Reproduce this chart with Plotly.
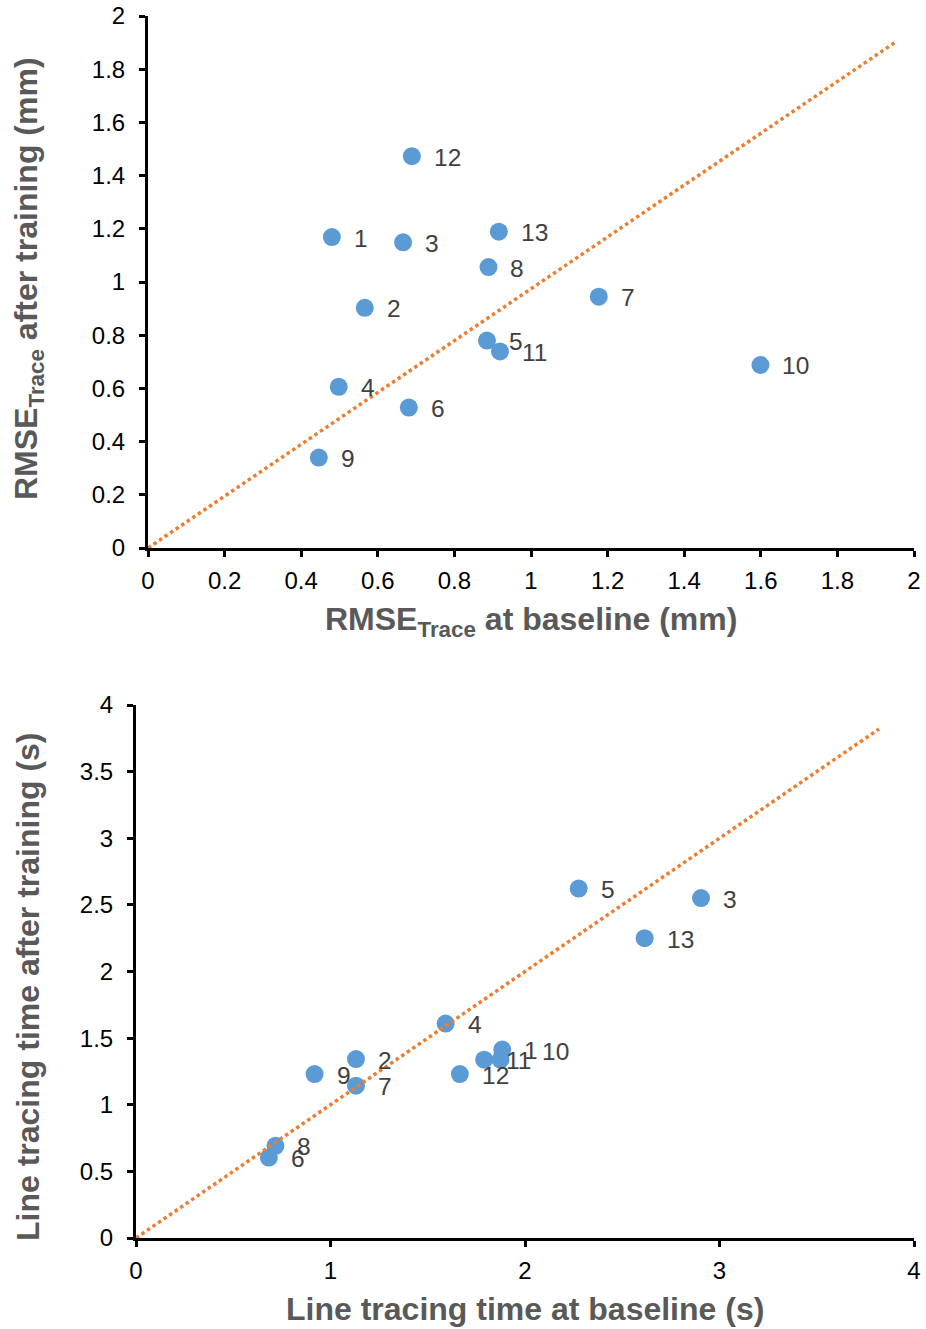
import plotly.graph_objects as go

W, H = 926, 1329

# Participant IDs
participants = [str(i) for i in range(1, 14)]

# RMSE_Trace (mm): baseline vs after training
rmse_baseline = [0.480, 0.566, 0.666, 0.498, 0.885, 0.681, 1.177, 0.889, 0.446, 1.599, 0.919, 0.689, 0.916]
rmse_after = [1.169, 0.903, 1.149, 0.606, 0.780, 0.528, 0.945, 1.056, 0.340, 0.688, 0.739, 1.473, 1.189]

# Line tracing time (s): baseline vs after training
time_baseline = [1.883, 1.131, 2.905, 1.592, 2.276, 0.683, 1.131, 0.717, 0.918, 1.874, 1.790, 1.665, 2.615]
time_after = [1.414, 1.343, 2.551, 1.609, 2.622, 0.604, 1.143, 0.692, 1.230, 1.338, 1.338, 1.230, 2.250]

# Reference lines through the origin
rmse_ref_x = [0, 1.956]
rmse_ref_y = [0, 1.906]
time_ref_x = [0, 3.82]
time_ref_y = [0, 3.82]

# Tick values
rmse_ticks = [0, 0.2, 0.4, 0.6, 0.8, 1, 1.2, 1.4, 1.6, 1.8, 2]
time_x_ticks = [0, 1, 2, 3, 4]
time_y_ticks = [0, 0.5, 1, 1.5, 2, 2.5, 3, 3.5, 4]

BLUE = "#5B9BD5"
ORANGE = "#ED7D31"
FONT = "Arial, Liberation Sans, sans-serif"


def px_x(p):
    return p / W


def px_y(p):
    return 1 - p / H


fig = go.Figure()

# Top panel
fig.add_trace(go.Scatter(x=rmse_baseline, y=rmse_after, mode="markers",
                         marker=dict(size=18, color=BLUE, line=dict(width=0)),
                         xaxis="x", yaxis="y", hoverinfo="x+y"))
fig.add_trace(go.Scatter(x=rmse_ref_x, y=rmse_ref_y, mode="lines",
                         line=dict(color=ORANGE, width=3.5, dash="3.5px,3.2px"),
                         xaxis="x", yaxis="y", hoverinfo="skip"))

# Bottom panel
fig.add_trace(go.Scatter(x=time_baseline, y=time_after, mode="markers",
                         marker=dict(size=18, color=BLUE, line=dict(width=0)),
                         xaxis="x2", yaxis="y2", hoverinfo="x+y"))
fig.add_trace(go.Scatter(x=time_ref_x, y=time_ref_y, mode="lines",
                         line=dict(color=ORANGE, width=3.5, dash="3.5px,3.2px"),
                         xaxis="x2", yaxis="y2", hoverinfo="skip"))

annotations = []

# Point labels, set to the right of each marker
label_font = dict(family=FONT, size=24.5, color="#404040")
for pid, xv, yv in zip(participants, rmse_baseline, rmse_after):
    annotations.append(dict(x=xv, y=yv, xref="x", yref="y", text=pid, showarrow=False,
                            xanchor="left", yanchor="middle", xshift=20, yshift=-1,
                            font=label_font))

# Label nudges for the crowded cluster in the lower panel
time_label_nudge = {"10": (40, 9)}
for pid, xv, yv in zip(participants, time_baseline, time_after):
    dx, dy = time_label_nudge.get(pid, (20, 0))
    annotations.append(dict(x=xv, y=yv, xref="x2", yref="y2", text=pid, showarrow=False,
                            xanchor="left", yanchor="middle", xshift=dx, yshift=dy - 1,
                            font=label_font))

# Axis titles
title_font = dict(family=FONT, size=32, color="#595959")
annotations += [
    dict(x=px_x(531), y=px_y(622), xref="paper", yref="paper",
         text="<b>RMSE<sub>Trace</sub> at baseline (mm)</b>", showarrow=False,
         xanchor="center", yanchor="middle", font=title_font),
    dict(x=px_x(28), y=px_y(279), xref="paper", yref="paper",
         text="<b>RMSE<sub>Trace</sub> after training (mm)</b>", showarrow=False,
         textangle=-90, xanchor="center", yanchor="middle", font=title_font),
    dict(x=px_x(525), y=px_y(1309), xref="paper", yref="paper",
         text="<b>Line tracing time at baseline (s)</b>", showarrow=False,
         xanchor="center", yanchor="middle", font=title_font),
    dict(x=px_x(28), y=px_y(987), xref="paper", yref="paper",
         text="<b>Line tracing time after training (s)</b>", showarrow=False,
         textangle=-90, xanchor="center", yanchor="middle", font=title_font),
]

axis_common = dict(showgrid=False, zeroline=False, showline=True, linecolor="black",
                   linewidth=3, ticks="outside", ticklen=6, tickwidth=2.5, tickcolor="black",
                   tickfont=dict(family=FONT, size=24, color="black"), automargin=False,
                   fixedrange=True)

fig.update_layout(
    width=W, height=H,
    margin=dict(l=0, r=0, t=0, b=0),
    paper_bgcolor="white", plot_bgcolor="white",
    showlegend=False,
    font=dict(family=FONT),
    xaxis=dict(domain=[px_x(148), px_x(914)], anchor="y", range=[0, 2],
               tickvals=rmse_ticks, ticklabelstandoff=3, **axis_common),
    yaxis=dict(domain=[px_y(548), px_y(16)], anchor="x", range=[0, 2],
               tickvals=rmse_ticks, ticklabelstandoff=9, **axis_common),
    xaxis2=dict(domain=[px_x(136), px_x(914)], anchor="y2", range=[0, 4],
                tickvals=time_x_ticks, ticklabelstandoff=3, **axis_common),
    yaxis2=dict(domain=[px_y(1238), px_y(705)], anchor="x2", range=[0, 4],
                tickvals=time_y_ticks, ticklabelstandoff=9, **axis_common),
    annotations=annotations,
)

fig.write_html("out.html")
